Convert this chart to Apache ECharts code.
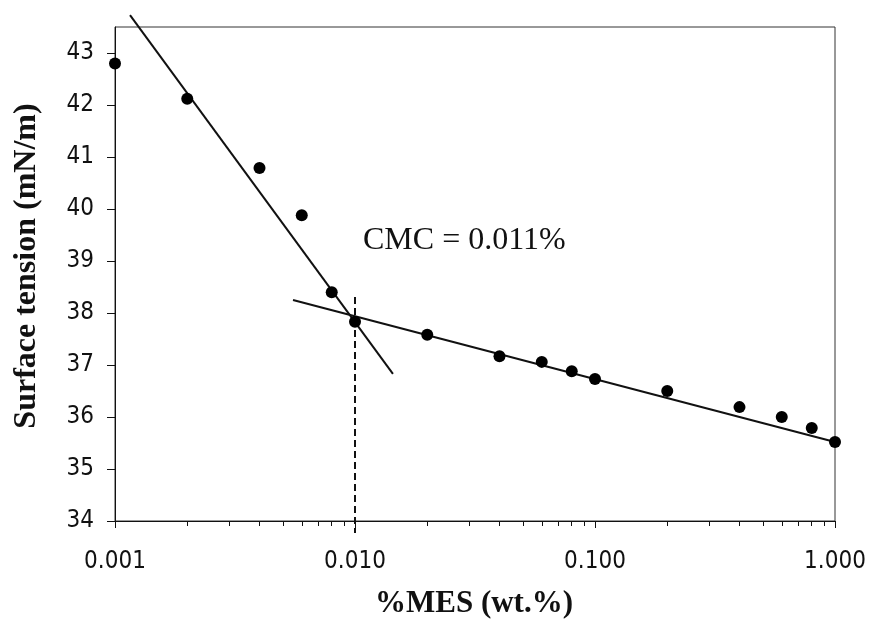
<!DOCTYPE html>
<html>
<head>
<meta charset="utf-8">
<script src="https://cdn.jsdelivr.net/npm/echarts@6/dist/echarts.min.js"></script>
<style>
html,body{margin:0;padding:0;background:#fff;}
#chart{width:869px;height:624px;}
</style>
</head>
<body>
<div id="chart"></div>
<script>
// ---- data ----
const conc = [0.001, 0.002, 0.004, 0.006, 0.008, 0.01, 0.02, 0.04, 0.06, 0.08, 0.1, 0.2, 0.4, 0.6, 0.8, 1.0];
const tension = [42.8, 42.12, 40.79, 39.88, 38.4, 37.83, 37.58, 37.17, 37.06, 36.88, 36.73, 36.5, 36.19, 36.0, 35.79, 35.52];

// fitted lines drawn in the figure (end points)
const steepLineX = [0.001155, 0.01439];
const steepLineY = [43.73, 36.83];
const flatLineX = [0.005516, 1.0];
const flatLineY = [38.25, 35.52];
const cmcLineX = [0.01, 0.01];
const cmcLineY = [38.31, 33.77];

// ticks and labels
const xMajorTicks = [0.001, 0.01, 0.1, 1];
const xTickLabels = ['0.001', '0.010', '0.100', '1.000'];
const xMinorTicks = [0.002, 0.003, 0.004, 0.005, 0.006, 0.007, 0.008, 0.009,
                     0.02, 0.03, 0.04, 0.05, 0.06, 0.07, 0.08, 0.09,
                     0.2, 0.3, 0.4, 0.5, 0.6, 0.7, 0.8, 0.9];
const yTicks = [34, 35, 36, 37, 38, 39, 40, 41, 42, 43];

const xTitle = '%MES (wt.%)';
const yTitle = 'Surface tension (mN/m)';
const cmcText = 'CMC = 0.011%';

const tickFont = "'DejaVu Sans Condensed', 'Liberation Sans', sans-serif";
const serifFont = "'Liberation Serif', 'Times New Roman', serif";
const ink = '#111';

const chart = echarts.init(document.getElementById('chart'), null, {renderer: 'canvas'});

const zip = (xs, ys) => xs.map((x, i) => [x, ys[i]]);

chart.setOption({
  backgroundColor: '#fff',
  animation: false,
  grid: {
    left: 115, right: 34, top: 27, bottom: 103,
    show: true, borderColor: '#333', borderWidth: 1, backgroundColor: 'transparent'
  },
  xAxis: [{
    type: 'log', logBase: 10, min: 0.001, max: 1,
    axisLine: {show: true, lineStyle: {color: ink, width: 1}},
    axisTick: {show: true, length: 7, lineStyle: {color: ink, width: 1}, customValues: xMajorTicks},
    axisLabel: {
      show: true, customValues: xMajorTicks, margin: 29,
      fontFamily: tickFont, fontSize: 24, color: ink,
      formatter: v => { const i = xMajorTicks.findIndex(t => Math.abs(t - v) / t < 1e-6); return i >= 0 ? xTickLabels[i] : ''; }
    },
    splitLine: {show: false}, minorTick: {show: false}, minorSplitLine: {show: false}
  }, {
    type: 'log', logBase: 10, min: 0.001, max: 1, gridIndex: 0, position: 'bottom',
    axisLine: {show: false},
    axisTick: {show: true, length: 5, lineStyle: {color: ink, width: 1}, customValues: xMinorTicks},
    axisLabel: {show: false},
    splitLine: {show: false}
  }],
  yAxis: {
    type: 'value', min: 34, max: 43.5,
    axisLine: {show: true, lineStyle: {color: ink, width: 1}},
    axisTick: {show: true, length: 8, lineStyle: {color: ink, width: 1}, customValues: yTicks},
    axisLabel: {show: true, customValues: yTicks, margin: 21, fontFamily: tickFont, fontSize: 24, color: ink},
    splitLine: {show: false}
  },
  graphic: [
    {type: 'text', x: 474, y: 604, style: {text: xTitle, font: 'bold 31px ' + serifFont, fill: ink, textAlign: 'center', textVerticalAlign: 'middle'}},
    {type: 'text', x: 27, y: 266, rotation: Math.PI / 2, style: {text: yTitle, font: 'bold 32px ' + serifFont, fill: ink, textAlign: 'center', textVerticalAlign: 'middle'}},
    {type: 'text', x: 363, y: 241, style: {text: cmcText, font: '32px ' + serifFont, fill: ink, textAlign: 'left', textVerticalAlign: 'middle'}}
  ],
  series: [
    {
      type: 'line', name: 'steep', data: zip(steepLineX, steepLineY),
      symbol: 'none', clip: false, lineStyle: {color: ink, width: 2}, silent: true, z: 3
    },
    {
      type: 'line', name: 'flat', data: zip(flatLineX, flatLineY),
      symbol: 'none', clip: false, lineStyle: {color: ink, width: 2}, silent: true, z: 3
    },
    {
      type: 'line', name: 'cmc', data: zip(cmcLineX, cmcLineY),
      symbol: 'none', clip: false, lineStyle: {color: ink, width: 2, type: [7, 4]}, silent: true, z: 3
    },
    {
      type: 'scatter', name: 'Surface tension', data: zip(conc, tension),
      symbol: 'circle', symbolSize: 12, clip: false,
      itemStyle: {color: '#000', opacity: 1}, z: 4
    }
  ]
});
</script>
</body>
</html>
